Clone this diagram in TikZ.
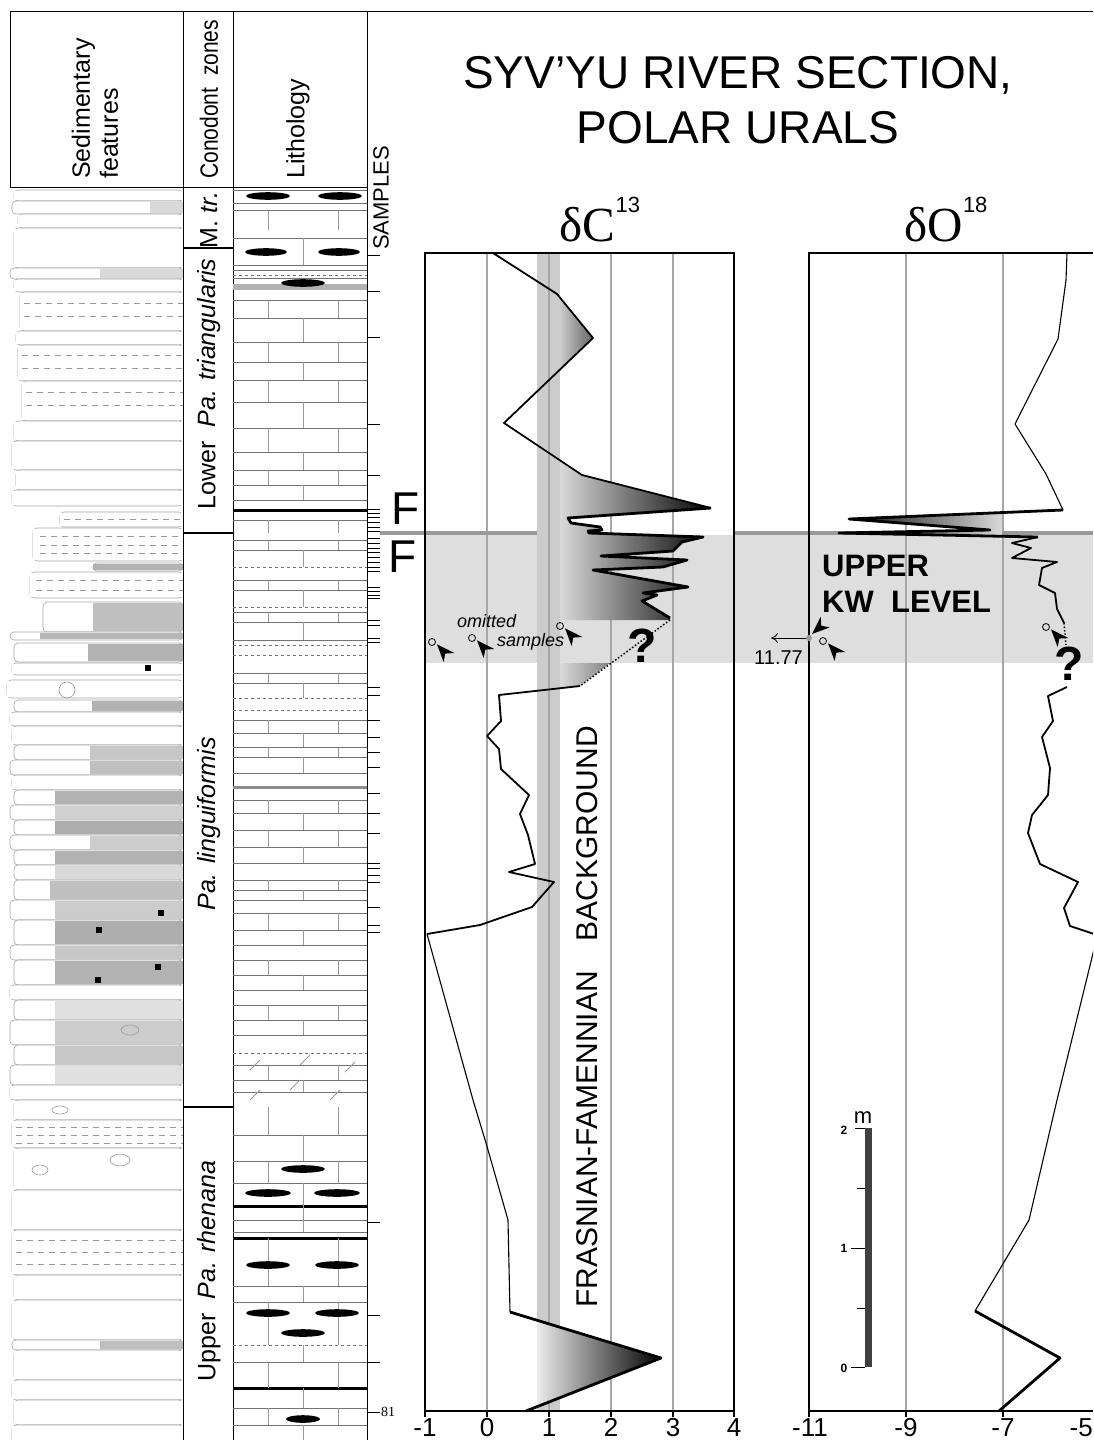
\documentclass[tikz,border=0pt]{standalone}
\usepackage{graphicx}
\usepackage{fontspec}
\setmainfont{Liberation Sans}
\newfontfamily\timesfont{Liberation Serif}
\usetikzlibrary{arrows.meta}

\tikzset{
    gridln/.style={black!35, line width=1.2pt},
    frame/.style={line width=1.8pt},
    curve/.style={line width=1.8pt, line join=round},
    boldcurve/.style={line width=2.8pt, line join=round},
    thincurve/.style={line width=1.1pt, line join=round},
    bed/.style={draw=black!35, line width=0.6pt, rounded corners=4pt},
    bedline/.style={black!40, line width=0.6pt},
    bedrows/.style={black!40, line width=1pt, dash pattern=on 6pt off 5pt},
    litho/.style={black!55, line width=0.7pt},
    brick/.style={black!40, line width=0.8pt},
    colhead/.style={rotate=90, inner sep=0pt, font=\fontsize{25}{28}\selectfont},
    zonelab/.style={rotate=90, inner sep=0pt, font=\fontsize{25}{28}\selectfont},
    axlab/.style={anchor=north, inner sep=0pt, font=\fontsize{26}{28}\selectfont},
    sampmark/.pic={\draw[line width=0.8pt] (0,0) circle (3.5);
        \fill (5,2.3) -- (22.3,11) -- (13.3,11.6) -- (11.6,20) -- cycle;},
    wedge/.pic={\fill (0,0) -- (17.3,8.7) -- (8.3,9.3) -- (6.6,17.7) -- cycle;}
}

\begin{document}
\begin{tikzpicture}[x=1pt, y=-1pt]
        \useasboundingbox (0,0) rectangle (1093,1440);
        \clip (0,0) rectangle (1093,1440);

        % sedimentary features
        \foreach \a/\b/\l/\g/\f in {190/201/14/14/0, 201/214/12/150/15, 214/228/18/18/0, 228/268/14/14/0, 268/279/10/100/15,
            279/292/14/14/0, 292/331/20/20/0, 331/345/16/16/0, 345/381/18/18/0, 381/421/22/22/0, 421/441/14/14/0,
            441/470/12/12/0, 470/490/16/16/0, 490/506/12/12/0, 512/527/60/60/0, 528/561/33/33/0, 563/571/93/93/30,
            572/598/30/30/0, 602/632/43/93/25, 632/640/10/40/28, 643/662/14/88/30, 663/675/12/12/0, 680/698/7/7/0,
            700/712/14/92/30, 712/726/10/10/0, 726/745/12/12/0, 745/760/14/90/22, 760/775/10/90/25, 775/790/12/12/0,
            790/805/14/55/30, 805/820/10/55/18, 820/835/14/55/32, 835/850/10/90/20, 850/865/14/55/30, 865/880/14/55/15,
            880/900/14/50/25, 900/920/10/55/20, 920/945/14/55/32, 945/960/10/55/22, 960/985/14/55/30, 985/1000/10/10/0,
            1000/1020/14/55/12, 1020/1045/10/55/20, 1045/1065/14/55/22, 1065/1085/10/55/12, 1085/1100/10/10/0,
            1100/1120/14/14/0, 1120/1148/12/12/0, 1148/1190/14/14/0, 1190/1230/12/12/0, 1230/1275/12/12/0,
            1275/1300/14/14/0, 1300/1340/12/12/0, 1340/1350/12/100/25, 1350/1380/14/14/0, 1380/1400/12/12/0,
            1400/1425/14/14/0, 1425/1445/12/12/0}
            {
            \draw[bed, fill=white] (\l,\a) rectangle (183,\b);
            \fill[black!\f] (\g,\a+1) rectangle (183,\b-1);
            }
        \foreach \y/\l in {303/24, 316/24, 355/22, 368/22, 392/26, 405/26, 519/64, 536/40, 545/40, 553/40,
            580/36, 590/36, 1127/16, 1135/16, 1143/16, 1240/16, 1252/16, 1264/16}
            \draw[bedrows] (\l,\y) -- (183,\y);
        \foreach \x/\y in {148/668, 161/913, 99/930, 158/967, 98/980}
            \fill (\x-3,\y-3) rectangle (\x+3,\y+3);
        \draw[bedline] (67,690) circle (8) (130,1030) ellipse [x radius=9, y radius=5] (40,1170) ellipse [x radius=8, y radius=5]
            (120,1160) ellipse [x radius=10, y radius=6] (60,1110) ellipse [x radius=8, y radius=4];

        % header
        \draw[line width=1pt] (10,11) -- (1093,11);
        \draw[line width=1pt] (10,11) -- (10,187) -- (367,187);
        \draw[line width=1pt] (183,11) -- (183,1440) (233,11) -- (233,1440) (367,11) -- (367,1440);
        \draw[line width=1.2pt] (183,248) -- (233,248) (183,533) -- (233,533) (183,1107) -- (233,1107);
        \node[colhead, anchor=west, align=left] (hsed) at (95,179) {Sedimentary\\features};
        \node[colhead, anchor=west] (hcon) at (209,179) {\scalebox{0.84}[1]{Conodont\hspace{14pt}zones}};
        \node[colhead, anchor=west] (hlit) at (298,179) {Lithology};
        \node[rotate=90, anchor=west, inner sep=0pt, font=\fontsize{22}{24}\selectfont] (hsam) at (381,250) {SAMPLES};
        \node[zonelab] (zmtr) at (209,220) {M.~\textit{tr.}};
        \node[zonelab] (zlow) at (209,384) {Lower\ \ \textit{Pa. triangularis}};
        \node[zonelab] (zlin) at (209,824) {\textit{Pa. linguiformis}};
        \node[zonelab] (zupp) at (209,1271) {Upper\ \ \textit{Pa. rhenana}};

        % lithology
        \foreach \y in {190,203,210,238,265,270,278,300,318,342,362,380,402,428,452,470,485,500,520,
            540,550,580,590,612,622,640,673,683,720,733,747,757,773,800,813,830,847,863,880,890,900,
            913,930,945,960,975,990,1005,1020,1035,1065,1080,1092,1135,1161,1183,1220,1232,1286,1302,1362,1408,1425}
            \draw[litho] (233,\y) -- (367,\y);
        \foreach \y in {275,567,607,645,655,698,710,1053,1345}
            \draw[litho, dashed] (233,\y) -- (367,\y);
        \fill[black!30] (233,284) rectangle (367,290);
        \draw[black!45, line width=3pt] (233,787) -- (367,787);
        \foreach \y in {510,1206,1238,1388}
            \draw[line width=3pt] (233,\y) -- (367,\y);
        \foreach \a/\b in {210/230, 300/318, 342/362, 380/402, 428/452, 470/485, 520/533, 540/550, 580/590,
            612/622, 673/683, 720/733, 747/757, 800/813, 830/847, 880/890, 913/930, 960/975, 1005/1020,
            1065/1080, 1107/1135, 1161/1183, 1238/1286, 1302/1345, 1362/1388, 1408/1425}
            \draw[brick] (268,\a) -- (268,\b) (338,\a) -- (338,\b);
        \foreach \a/\b in {238/265, 318/342, 362/380, 402/428, 452/470, 485/500, 550/567, 590/607, 622/640,
            683/698, 733/747, 757/773, 813/830, 847/863, 890/900, 930/945, 975/990, 1020/1035, 1080/1092,
            1135/1161, 1183/1206, 1206/1232, 1286/1302, 1345/1362, 1388/1408, 1425/1440}
            \draw[brick] (303,\a) -- (303,\b);
        \foreach \x/\y in {250/1100, 290/1090, 330/1100, 250/1070, 300/1065, 345/1072}
            \draw[brick] (\x,\y) -- (\x+10,\y-10);
        \foreach \x/\y/\r in {268/196/22, 340/196/22, 266/252/21, 339/252/21, 303/283/22, 303/1169/22,
            268/1193/23, 337/1193/23, 268/1265/22, 337/1265/22, 268/1313/22, 337/1313/22, 303/1333/22, 303/1419/17}
            \fill (\x,\y) ellipse [x radius=\r, y radius=3.8];

        % sample levels
        \foreach \t in {255,291,337,424,475,509,513,517,522,527,531,538,543,548,552,557,562,567,571,587,591,595,598,
            620,625,638,642,687,695,720,737,752,767,793,813,833,863,868,875,882,907,925,932,1222,1315,1362,1412}
            \draw[line width=1pt] (367,\t) -- (380,\t);
        \node[anchor=west, inner sep=0pt, font={\timesfont\fontsize{14}{16}\selectfont}] (s81) at (381,1412) {81};

        % title
        \node[anchor=base, inner sep=0pt, font=\fontsize{46}{50}\selectfont] (title) at (738,88) {SYV’YU RIVER SECTION,};
        \node[anchor=base, inner sep=0pt, font=\fontsize{46}{50}\selectfont] (subtitle) at (738,143) {POLAR URALS};
        \node[anchor=base, inner sep=0pt] (dC) at (600,241) {\timesfont\fontsize{49}{50}\selectfont δC\raisebox{29pt}{\rmfamily\fontsize{22}{22}\selectfont 13}};
        \node[anchor=base, inner sep=0pt] (dO) at (946,241) {\timesfont\fontsize{49}{50}\selectfont δO\raisebox{29pt}{\rmfamily\fontsize{22}{22}\selectfont 18}};

        % background boxes
        \fill[black!13] (425,535) rectangle (1093,663);
        \fill[black!20] (537,253) rectangle (560,1411);
        \foreach \x in {487,549,611,673,906,1003}
            \draw[gridln] (\x,253) -- (\x,1411);
        \draw[black!40, line width=4pt] (380,533) -- (537,533) (734,533) -- (1093,533);

        % shaded excursions
        \begin{scope}
            \clip (560,298) -- (593,338) -- (560,369) -- cycle;
            \shade[left color=black!20, right color=black!62] (560,290) rectangle (594,370);
        \end{scope}
        \begin{scope}
            \clip (560,460) -- (582,475) -- (711,508) -- (568,518) -- (571,523) -- (600,527) -- (602,530) -- (588,531)
                -- (589,533) -- (703,537) -- (682,542) -- (673,551) -- (601,556) -- (687,560) -- (663,567) -- (593,570)
                -- (688,587) -- (643,593) -- (657,595) -- (642,601) -- (670,618) -- (670,620) -- (560,620) -- cycle;
            \shade[left color=black!15, right color=black] (560,455) rectangle (712,625);
        \end{scope}
        \begin{scope}
            \clip (560,663) -- (610,663) -- (580,686) -- (560,688) -- cycle;
            \shade[left color=black!15, right color=black!50] (560,660) rectangle (611,690);
        \end{scope}
        \begin{scope}
            \clip (537,1320) -- (661,1358) -- (537,1407) -- cycle;
            \shade[left color=black!8, right color=black] (537,1315) rectangle (662,1410);
        \end{scope}
        \begin{scope}
            \clip (1002,513) -- (849,519) -- (990,530) -- (839,533) -- (1002,536) -- cycle;
            \shade[left color=black, right color=black!15] (839,510) rectangle (1002,540);
        \end{scope}

        % delta C13 curve
        \draw[curve] (493,253) -- (557,294) -- (593,338) -- (504,423) -- (582,475) -- (711,508);
        \draw[boldcurve] (711,508) -- (568,518) -- (571,523) -- (600,527) -- (602,530) -- (588,531) -- (589,533)
            -- (703,537) -- (682,542) -- (673,551) -- (601,556) -- (687,560) -- (663,567) -- (593,570)
            -- (688,587) -- (643,593) -- (657,595) -- (642,601) -- (670,618);
        \draw[line width=1.5pt, dotted] (670,620) -- (580,686);
        \draw[curve] (580,686) -- (499,695) -- (501,721) -- (487,736) -- (499,749) -- (501,769) -- (529,795) -- (520,814)
            -- (528,835) -- (535,864) -- (509,872) -- (554,882) -- (532,907) -- (480,925) -- (427,934);
        \draw[thincurve] (427,934) -- (473,1100) -- (486,1143) -- (508,1220) -- (510,1312);
        \draw[boldcurve] (510,1312) -- (661,1358) -- (526,1411);

        % delta O18 curve
        \draw[thincurve] (1067,253) -- (1066,280) -- (1058,339) -- (1015,424) -- (1046,474) -- (1063,510);
        \draw[boldcurve] (1063,510) -- (849,519) -- (990,530) -- (839,533) -- (1038,537);
        \draw[curve] (1038,537) -- (1012,543) -- (1031,548) -- (1012,558) -- (1057,562) -- (1042,568) -- (1039,585)
            -- (1055,593) -- (1057,609) -- (1064,623);
        \draw[line width=1.5pt, dotted] (1064,623) -- (1066,645);
        \draw[curve] (1067,687) -- (1048,696) -- (1053,721) -- (1042,737) -- (1050,768) -- (1048,795) -- (1032,815)
            -- (1028,833) -- (1040,864) -- (1078,882) -- (1064,908) -- (1070,926) -- (1097,935);
        \draw[thincurve] (1097,937) -- (1057,1100) -- (1029,1220) -- (975,1311);
        \draw[boldcurve] (975,1311) -- (1060,1358) -- (999,1411);

        % frames and axes
        \draw[frame] (425,253) rectangle (734,1411);
        \draw[frame] (1093,253) -- (809,253) -- (809,1411) -- (1093,1411);
        \foreach \x in {425,487,549,611,673,734,809,906,1003}
            \draw[frame] (\x,1411) -- (\x,1417);
        \foreach \v/\x [count=\i] in {-1/425,0/487,1/549,2/611,3/673,4/734}
            \node[axlab] (cx\i) at (\x,1418) {\v};
        \foreach \v/\x [count=\i] in {-11/810,-9/906,-7/1003}
            \node[axlab] (ox\i) at (\x,1418) {\v};
        \node[axlab, anchor=north east] (ox4) at (1093,1418) {-5};

        % labels
        \node[font=\fontsize{46}{48}\selectfont, inner sep=0pt] (F1) at (406,509) {F};
        \node[font=\fontsize{46}{48}\selectfont, inner sep=0pt] (F2) at (403,557) {F};
        \node[rotate=90, anchor=base west, inner sep=0pt, font=\fontsize{30}{32}\selectfont] (ffb) at (597,1308)
            {FRASNIAN-FAMENNIAN\hspace{30pt}BACKGROUND};
        \node[anchor=base west, inner sep=0pt, font=\fontsize{31}{33}\selectfont\bfseries] (kw1) at (822,576) {UPPER};
        \node[anchor=base west, inner sep=0pt, font=\fontsize{31}{33}\selectfont\bfseries] (kw2) at (822,612) {KW\ \ LEVEL};
        \node[anchor=base west, inner sep=0pt, font=\fontsize{18}{20}\selectfont\itshape] (om) at (457,627) {omitted};
        \node[anchor=base west, inner sep=0pt, font=\fontsize{18}{20}\selectfont\itshape] (sa) at (497,646) {samples};
        \node[font=\fontsize{48}{50}\selectfont\bfseries, inner sep=0pt] (qC) at (642,646) {?};
        \node[font=\fontsize{48}{50}\selectfont\bfseries, inner sep=0pt] (qO) at (1069,664) {?};

        % omitted samples
        \pic at (432,642) {sampmark};
        \pic at (472,638) {sampmark};
        \pic at (560,626) {sampmark};
        \pic at (823,641) {sampmark};
        \pic at (1046,627) {sampmark};
        \coordinate (dotO) at (809,638);
        \coordinate (arrO) at (771,638);
        \draw[line width=0.8pt, -{To[length=7pt, width=10pt]}] (dotO) -- (arrO);
        \fill[black!40] (dotO) circle (3);
        \pic[rotate=90] at (812,634) {wedge};
        \node[anchor=base east, inner sep=0pt, font=\fontsize{20}{22}\selectfont] (val) at (803,664) {11.77};

        % scale bar
        \fill[black!75] (865,1128) rectangle (872,1367);
        \draw[line width=1pt] (851,1367) -- (865,1367) (851,1248) -- (865,1248) (857,1308) -- (865,1308)
            (857,1188) -- (865,1188) (855,1128) -- (865,1128);
        \node[font=\fontsize{12}{14}\selectfont\bfseries, inner sep=0pt] (m0) at (844,1368) {0};
        \node[font=\fontsize{12}{14}\selectfont\bfseries, inner sep=0pt] (m1) at (844,1248) {1};
        \node[font=\fontsize{12}{14}\selectfont\bfseries, inner sep=0pt] (m2) at (844,1130) {2};
        \node[font=\fontsize{22}{24}\selectfont, inner sep=0pt] (mu) at (863,1118) {m};
\end{tikzpicture}
\end{document}
